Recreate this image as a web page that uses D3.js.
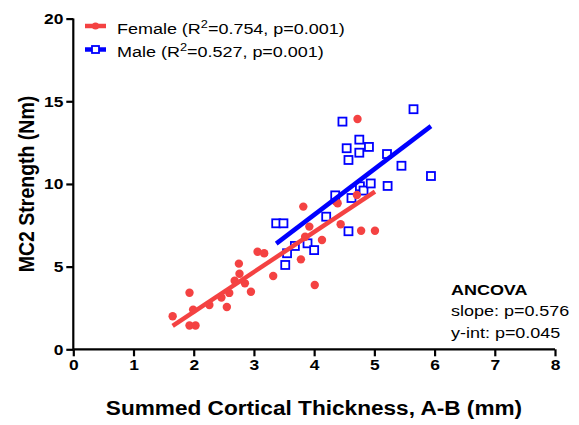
<!DOCTYPE html>
<html>
<head>
<meta charset="utf-8">
<script src="https://cdn.jsdelivr.net/npm/d3@7"></script>
<style>
  body { margin: 0; background: #fff; }
  text { font-family: "Liberation Sans", Arial, sans-serif; }
</style>
</head>
<body>
<div id="chart"></div>
<script>
// thickness (mm) and strength (Nm)
var femaleX = [1.65, 1.93, 1.99, 1.93, 2.03, 2.26, 2.46, 2.55, 2.59, 2.68, 2.75, 2.76, 2.85, 2.95,
               3.06, 3.17, 3.32, 3.82, 3.92, 3.85, 3.78, 4.13, 4.01, 4.36, 4.39, 4.44, 4.71, 4.78, 5.01, 4.72];
var femaleY = [2.00, 3.42, 2.40, 1.44, 1.44, 2.68, 3.13, 2.56, 3.41, 4.15, 5.18, 4.57, 3.99, 3.48,
               5.90, 5.81, 4.43, 8.63, 7.42, 6.81, 5.44, 6.61, 3.89, 8.93, 8.83, 7.56, 9.33, 7.17, 7.17, 13.93];
var maleX = [3.37, 3.49, 3.55, 3.52, 3.68, 3.89, 4.00, 4.20, 4.35, 4.57, 4.62, 4.76, 4.82, 4.94,
             5.22, 5.94, 5.45, 5.21, 4.57, 4.75, 4.54, 4.91, 4.75, 4.47, 5.65];
var maleY = [7.62, 7.62, 5.81, 5.10, 6.25, 6.41, 6.00, 8.02, 9.31, 7.14, 9.15, 9.86, 9.60, 10.03,
             9.88, 10.48, 11.10, 11.81, 11.45, 11.89, 12.16, 12.24, 12.68, 13.77, 14.52];

var xTicks = [0, 1, 2, 3, 4, 5, 6, 7, 8];
var yTicks = [0, 5, 10, 15, 20];
var legendLabels = [["Female (R", "=0.754, p=0.001)"], ["Male (R", "=0.527, p=0.001)"]];
var statsLines = ["ANCOVA", "slope: p=0.576", "y-int: p=0.045"];

var red = "#f44242", blue = "#0000ff";
var sx = 1.16; // text in the original looks a bit wide

var w = 579, h = 425;
var svg = d3.select("#chart").append("svg").attr("width", w).attr("height", h);

var x = d3.scaleLinear().domain([0, 8]).range([73.3, 555]);
var y = d3.scaleLinear().domain([0, 20]).range([349.3, 18.6]);

// widen text horizontally around an anchor point
function widen(sel, origin) {
    sel.style("transform-box", "fill-box")
       .style("transform-origin", origin)
       .style("transform", "scaleX(" + sx + ")");
}

// simple least squares fit
function fit(xs, ys) {
    var mx = d3.mean(xs), my = d3.mean(ys);
    var sxy = 0, sxx = 0;
    xs.forEach(function(v, i) {
        sxy += (v - mx) * (ys[i] - my);
        sxx += (v - mx) * (v - mx);
    });
    var b = sxy / sxx;
    return { slope: b, icpt: my - b * mx, x0: d3.min(xs), x1: d3.max(xs) };
}

function zip(xs, ys) {
    return xs.map(function(v, i) { return [v, ys[i]]; });
}

// axes
var xAxis = svg.append("g")
    .attr("transform", "translate(0," + y(0) + ")")
    .call(d3.axisBottom(x).tickValues(xTicks).tickSize(7).tickPadding(3).tickFormat(d3.format("d")));
var yAxis = svg.append("g")
    .attr("transform", "translate(" + x(0) + ",0)")
    .call(d3.axisLeft(y).tickValues(yTicks).tickSize(7).tickPadding(3).tickFormat(d3.format("d")));

[xAxis, yAxis].forEach(function(g) {
    g.select(".domain").attr("stroke", "#000").attr("stroke-width", 2.2)
        .attr("d", g === xAxis ? "M" + x(0) + ",0H" + x(8) : "M0," + y(0) + "V" + y(20));
    g.selectAll(".tick line").attr("stroke", "#000").attr("stroke-width", 2.2);
    g.selectAll(".tick text").attr("fill", "#000")
        .style("font-size", "15px").style("font-weight", "bold");
});
widen(xAxis.selectAll(".tick text"), "center");
widen(yAxis.selectAll(".tick text"), "right center");

// male squares
svg.append("g").selectAll("rect")
    .data(zip(maleX, maleY))
    .enter()
    .append("rect")
    .attr("x", function(d) { return x(d[0]) - 4; })
    .attr("y", function(d) { return y(d[1]) - 4; })
    .attr("width", 8)
    .attr("height", 8)
    .attr("fill", "#fff")
    .attr("stroke", blue)
    .attr("stroke-width", 1.8);

// female dots
svg.append("g").selectAll("circle")
    .data(zip(femaleX, femaleY))
    .enter()
    .append("circle")
    .attr("cx", function(d) { return x(d[0]); })
    .attr("cy", function(d) { return y(d[1]); })
    .attr("r", 4.2)
    .attr("fill", red);

// regression lines
[[maleX, maleY, blue], [femaleX, femaleY, red]].forEach(function(s) {
    var f = fit(s[0], s[1]);
    svg.append("line")
        .attr("x1", x(f.x0)).attr("y1", y(f.icpt + f.slope * f.x0))
        .attr("x2", x(f.x1)).attr("y2", y(f.icpt + f.slope * f.x1))
        .attr("stroke", s[2])
        .attr("stroke-width", 4.5);
});

// axis titles
var xTitle = svg.append("text")
    .attr("x", 314).attr("y", 415)
    .attr("text-anchor", "middle")
    .style("font-size", "19.5px").style("font-weight", "bold")
    .text("Summed Cortical Thickness, A-B (mm)");
widen(xTitle, "center");
svg.append("text")
    .attr("transform", "translate(34,184) scale(" + sx + ",1) rotate(-90)")
    .attr("text-anchor", "middle")
    .style("font-size", "19.5px").style("font-weight", "bold")
    .text("MC2 Strength (Nm)");

// legend
var legend = svg.append("g");
legendLabels.forEach(function(lab, i) {
    var cy = 26 + i * 23.5;
    var col = i === 0 ? red : blue;
    legend.append("line")
        .attr("x1", 85).attr("x2", 106).attr("y1", cy).attr("y2", cy)
        .attr("stroke", col).attr("stroke-width", 4.5);
    if (i === 0) {
        legend.append("circle").attr("cx", 95.5).attr("cy", cy).attr("r", 3.6).attr("fill", col);
    } else {
        legend.append("rect").attr("x", 92).attr("y", cy - 3.5).attr("width", 7).attr("height", 7)
            .attr("fill", "#fff").attr("stroke", col).attr("stroke-width", 1.8);
    }
    var t = legend.append("text")
        .attr("x", 117).attr("y", cy + 8)
        .style("font-size", "15.5px");
    t.append("tspan").text(lab[0]);
    t.append("tspan").attr("dy", -6).style("font-size", "11px").text("2");
    t.append("tspan").attr("dy", 6).text(lab[1]);
    widen(t, "left center");
});

// ANCOVA box
var stats = svg.append("g").selectAll("text")
    .data(statsLines)
    .enter()
    .append("text")
    .attr("x", 451)
    .attr("y", function(d, i) { return 295 + i * 21.5; })
    .style("font-size", "15.5px")
    .style("font-weight", function(d, i) { return i === 0 ? "bold" : "normal"; })
    .text(function(d) { return d; });
widen(stats, "left center");
</script>
</body>
</html>
